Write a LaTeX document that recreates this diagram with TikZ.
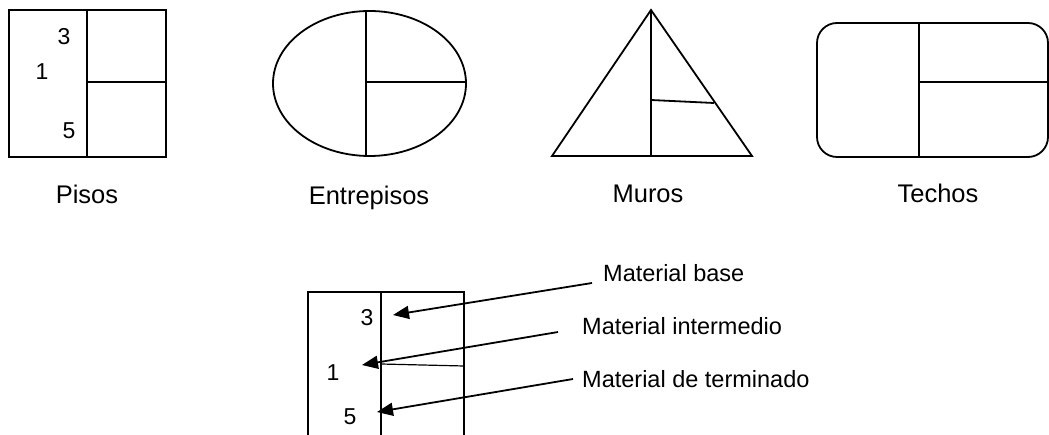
\documentclass[tikz,border=0pt]{standalone}
\usepackage{fontspec}
\setmainfont{Liberation Sans}
\usetikzlibrary{arrows.meta,shapes.geometric}

\begin{document}
\begin{tikzpicture}[
    x=1pt, y=-1pt,
    outline/.style={draw, line width=1.8pt, line join=miter},
    divider/.style={draw, line width=1.8pt},
    caption/.style={inner sep=0pt, anchor=base, font=\fontsize{25.5}{28}\selectfont},
    num/.style={inner sep=0pt, anchor=base, font=\fontsize{23}{26}\selectfont},
    note/.style={inner sep=0pt, anchor=base west, font=\fontsize{23.5}{27}\selectfont},
    line/.style={draw, line width=1.8pt, -{Triangle[length=16pt, width=13pt]}}
]
    \useasboundingbox (0,0) rectangle (1049,435);

    % Pisos: square split in three
    \draw [outline] (9,10) rectangle (166,157);
    \draw [divider] (87,10) -- (87,157) (87,82) -- (166,82);
    \node [num] (p3) at (64,45) {3};
    \node [num] (p1) at (42,80) {1};
    \node [num] (p5) at (69,139) {5};
    \node [caption] (pisos) at (87,204) {Pisos};

    % Entrepisos: ellipse
    \draw [outline] (369.5,83.5) ellipse [x radius=96.5, y radius=72.5];
    \draw [divider] (366,11) -- (366,156) (366,82) -- (466,82);
    \node [caption] (entrepisos) at (369,205) {Entrepisos};

    % Muros: triangle
    \draw [outline] (651,10) -- (552,156) -- (752,156) -- cycle;
    \draw [divider] (651,10) -- (651,156) (651,100) -- (714,103);
    \node [caption] (muros) at (648,203) {Muros};

    % Techos: rounded rectangle
    \draw [outline, rounded corners=20pt] (817,23) rectangle (1048,157);
    \draw [divider] (919,23) -- (919,157) (919,82) -- (1048,82);
    \node [caption] (techos) at (938,203) {Techos};

    % Detail: open box with layers
    \draw [outline] (308,435) -- (308,292) -- (464,292) -- (464,435);
    \draw [divider] (381,292) -- (381,435);
    \draw [line width=1.2pt] (381,364) -- (464,366);
    \node [num] (d3) at (367,326) {3};
    \node [num] (d1) at (333,380) {1};
    \node [num] (d5) at (350,424) {5};

    % Labels and pointers
    \node [note] (base) at (603,282) {Material base};
    \node [note] (inter) at (582,335) {Material intermedio};
    \node [note] (term) at (582,387) {Material de terminado};
    \coordinate (tbase) at (393,315);
    \coordinate (tinter) at (362,365);
    \coordinate (tterm) at (377,412);

    \path [line] ([xshift=-11pt, yshift=-1pt]base.base west) -- (tbase);
    \path [line] ([xshift=-24pt, yshift=3pt]inter.base west) -- (tinter);
    \path [line] ([xshift=-9pt, yshift=8pt]term.base west) -- (tterm);

\end{tikzpicture}
\end{document}
